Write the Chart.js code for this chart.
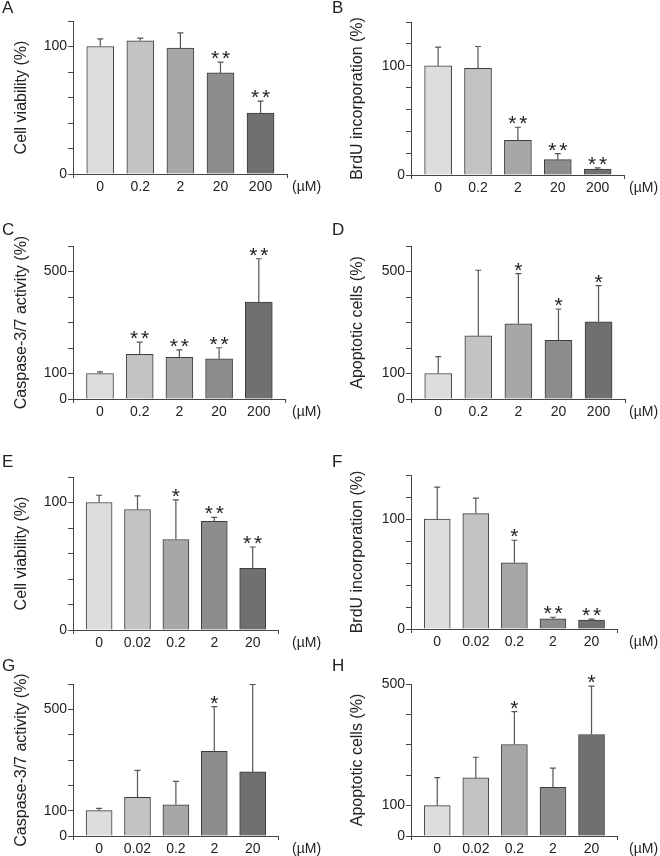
<!DOCTYPE html>
<html>
<head>
<meta charset="utf-8">
<title>Dose response panels</title>
<script src="https://cdn.jsdelivr.net/npm/chart.js@4.4.1/dist/chart.umd.min.js"></script>
<style>
  body { margin: 0; background: #fff; }
  #wrap { position: relative; width: 660px; height: 856px; background: #fff; }
  #wrap canvas { position: absolute; }
</style>
</head>
<body>
<div id="wrap"></div>
<script>
// doses (uM) on the x axis
const dosesTop = ['0', '0.2', '2', '20', '200'];
const dosesBottom = ['0', '0.02', '0.2', '2', '20'];

// A - cell viability
const viabilityA = [100, 104.5, 98.7, 79.3, 47.7];
const viabilityAErr = [6, 2, 12, 8.5, 9.5];
const viabilityASig = ['', '', '', '**', '**'];
// B - BrdU incorporation
const brduB = [100, 97.6, 31.7, 14, 5.5];
const brduBErr = [17, 20, 12, 5.5, 1];
const brduBSig = ['', '', '**', '**', '**'];
// C - caspase 3/7
const caspaseC = [100, 175, 163, 158, 380];
const caspaseCErr = [6, 48, 30, 43, 170];
const caspaseCSig = ['', '**', '**', '**', '**'];
// D - apoptotic cells
const apoptoticD = [100, 248, 295, 230, 303];
const apoptoticDErr = [66, 257, 197, 123, 142];
const apoptoticDSig = ['', '', '*', '*', '*'];
// E
const viabilityE = [100, 94.5, 71, 85.3, 48.3];
const viabilityEErr = [5.7, 10.7, 31, 3.1, 16.8];
const viabilityESig = ['', '', '*', '**', '**'];
// F
const brduF = [100, 104.9, 60.2, 9.2, 8];
const brduFErr = [29, 14, 20.5, 1.5, 0.9];
const brduFSig = ['', '', '*', '**', '**'];
// G
const caspaseG = [100, 153, 123, 334, 253];
const caspaseGErr = [9, 106, 93, 177, 345];
const caspaseGSig = ['', '', '', '*', ''];
// H
const apoptoticH = [100, 191, 301, 160, 334];
const apoptoticHErr = [92, 68, 108, 63, 159];
const apoptoticHSig = ['', '', '*', '', '*'];

const barColors = ['#dcdddf', '#c2c3c5', '#a6a7a9', '#8c8d8f', '#6f7072'];
const FONT = "'Liberation Sans', Arial, Helvetica, sans-serif";

Chart.defaults.font.family = FONT;
Chart.defaults.color = '#222';

// canvas rows (top, height)
const rows = [[0, 205], [205, 215], [440, 212], [652, 204]];

// area = [left, right, top, bottom] of the plot box on the page
const panels = [
  { letter: 'A', col: 0, row: 0, letterY: 13, area: [73, 287, 21, 174], title: 'Cell viability (%)',
    labels: dosesTop, values: viabilityA, errors: viabilityAErr, sig: viabilityASig, yMax: 120, yStep: 20, yLabels: [0, 100] },
  { letter: 'B', col: 1, row: 0, letterY: 13, area: [411, 624, 22, 175], title: 'BrdU incorporation (%)',
    labels: dosesTop, values: brduB, errors: brduBErr, sig: brduBSig, yMax: 140, yStep: 20, yLabels: [0, 100] },
  { letter: 'C', col: 0, row: 1, letterY: 235, area: [73, 285, 246, 399], title: 'Caspase-3/7 activity (%)',
    labels: dosesTop, values: caspaseC, errors: caspaseCErr, sig: caspaseCSig, yMax: 600, yStep: 100, yLabels: [0, 100, 500] },
  { letter: 'D', col: 1, row: 1, letterY: 235, area: [411, 625, 246, 399], title: 'Apoptotic cells (%)',
    labels: dosesTop, values: apoptoticD, errors: apoptoticDErr, sig: apoptoticDSig, yMax: 600, yStep: 100, yLabels: [0, 100, 500] },
  { letter: 'E', col: 0, row: 2, letterY: 467, area: [73, 278, 477, 630], title: 'Cell viability (%)',
    labels: dosesBottom, values: viabilityE, errors: viabilityEErr, sig: viabilityESig, yMax: 120, yStep: 20, yLabels: [0, 100] },
  { letter: 'F', col: 1, row: 2, letterY: 467, area: [411, 617, 475, 629], title: 'BrdU incorporation (%)',
    labels: dosesBottom, values: brduF, errors: brduFErr, sig: brduFSig, yMax: 140, yStep: 20, yLabels: [0, 100] },
  { letter: 'G', col: 0, row: 3, letterY: 671, area: [73, 278, 684, 836], title: 'Caspase-3/7 activity (%)',
    labels: dosesBottom, values: caspaseG, errors: caspaseGErr, sig: caspaseGSig, yMax: 600, yStep: 100, yLabels: [0, 100, 500] },
  { letter: 'H', col: 1, row: 3, letterY: 671, area: [411, 617, 684, 836], title: 'Apoptotic cells (%)',
    labels: dosesBottom, values: apoptoticH, errors: apoptoticHErr, sig: apoptoticHSig, yMax: 500, yStep: 100, yLabels: [0, 100, 500] }
];

// error bars, stars, panel letter and unit label
const extras = {
  id: 'extras',
  afterDatasetsDraw(chart) {
    const ctx = chart.ctx;
    const ds = chart.data.datasets[0];
    const y = chart.scales.y;
    ctx.save();
    chart.getDatasetMeta(0).data.forEach((bar, i) => {
      const top = y.getPixelForValue(ds.values[i] + ds.errors[i]);
      ctx.strokeStyle = '#555';
      ctx.lineWidth = 1.2;
      ctx.beginPath();
      ctx.moveTo(bar.x, bar.y);
      ctx.lineTo(bar.x, top);
      ctx.moveTo(bar.x - 3, top);
      ctx.lineTo(bar.x + 3, top);
      ctx.stroke();
      if (ds.sig[i]) {
        ctx.fillStyle = '#222';
        ctx.font = '21px ' + FONT;
        ctx.textAlign = 'center';
        ctx.textBaseline = 'alphabetic';
        const xs = ds.sig[i] === '**' ? [bar.x - 5.5, bar.x + 5.5] : [bar.x];
        xs.forEach(sx => ctx.fillText('*', sx, top + 3));
      }
    });
    ctx.restore();
  },
  afterDraw(chart) {
    const ctx = chart.ctx;
    const ds = chart.data.datasets[0];
    ctx.save();
    ctx.fillStyle = '#222';
    ctx.textAlign = 'left';
    ctx.textBaseline = 'alphabetic';
    ctx.font = '17px ' + FONT;
    ctx.fillText(ds.letter, 2, ds.letterY);
    ctx.font = '14px ' + FONT;
    ctx.textBaseline = 'middle';
    ctx.fillText('(\u00b5M)', ds.unitX, chart.chartArea.bottom + 13);
    ctx.restore();
  }
};

const wrap = document.getElementById('wrap');

panels.forEach(p => {
  const cx = p.col * 330, cw = 330;
  const [cy, ch] = rows[p.row];
  const [L, R, T, B] = p.area;
  const canvas = document.createElement('canvas');
  canvas.width = cw;
  canvas.height = ch;
  canvas.style.left = cx + 'px';
  canvas.style.top = cy + 'px';
  canvas.style.width = cw + 'px';
  canvas.style.height = ch + 'px';
  wrap.appendChild(canvas);

  new Chart(canvas, {
    type: 'bar',
    data: {
      datasets: [{
        data: p.values.map((v, i) => ({ x: i, y: v })),
        backgroundColor: barColors,
        borderColor: '#3c3c3c',
        borderWidth: 1,
        barThickness: p.row < 2 ? 27 : 26,
        values: p.values,
        errors: p.errors,
        sig: p.sig,
        letter: p.letter,
        letterY: p.letterY - cy,
        unitX: p.col === 0 ? 292 : 299
      }]
    },
    options: {
      responsive: false,
      animation: false,
      devicePixelRatio: 1,
      layout: { padding: { left: 0, right: cx + cw - R, top: T - cy, bottom: 0 } },
      plugins: { legend: { display: false }, tooltip: { enabled: false } },
      scales: {
        x: {
          type: 'linear',
          offset: false,
          min: -0.68,
          max: 4.66,
          afterBuildTicks: s => {
            s.ticks = [s.min, ...p.labels.map((_, i) => i), s.max].map(v => ({ value: v }));
          },
          ticks: {
            autoSkip: false,
            maxRotation: 0,
            padding: 1,
            font: { size: 14 },
            color: '#222',
            callback: v => Number.isInteger(v) ? p.labels[v] : ''
          },
          grid: {
            offset: false,
            drawOnChartArea: false,
            tickLength: 4,
            color: c => (c.tick && Number.isInteger(c.tick.value)) ? 'rgba(0,0,0,0)' : '#444'
          },
          border: { color: '#444', width: 1 },
          afterFit: s => { s.height = cy + ch - B; }
        },
        y: {
          min: 0,
          max: p.yMax,
          ticks: {
            stepSize: p.yStep,
            autoSkip: false,
            padding: 1,
            font: { size: 14 },
            color: '#222',
            callback: v => p.yLabels.includes(v) ? String(v) : ''
          },
          grid: { drawOnChartArea: false, tickLength: 5, color: '#444' },
          border: { color: '#444', width: 1 },
          title: {
            display: true,
            text: p.title,
            font: { size: 16 },
            color: '#222',
            padding: { top: p.col === 0 ? 12 : 18, bottom: 0 }
          },
          afterFit: s => { s.width = L - cx; }
        }
      }
    },
    plugins: [extras]
  });
});
</script>
</body>
</html>
